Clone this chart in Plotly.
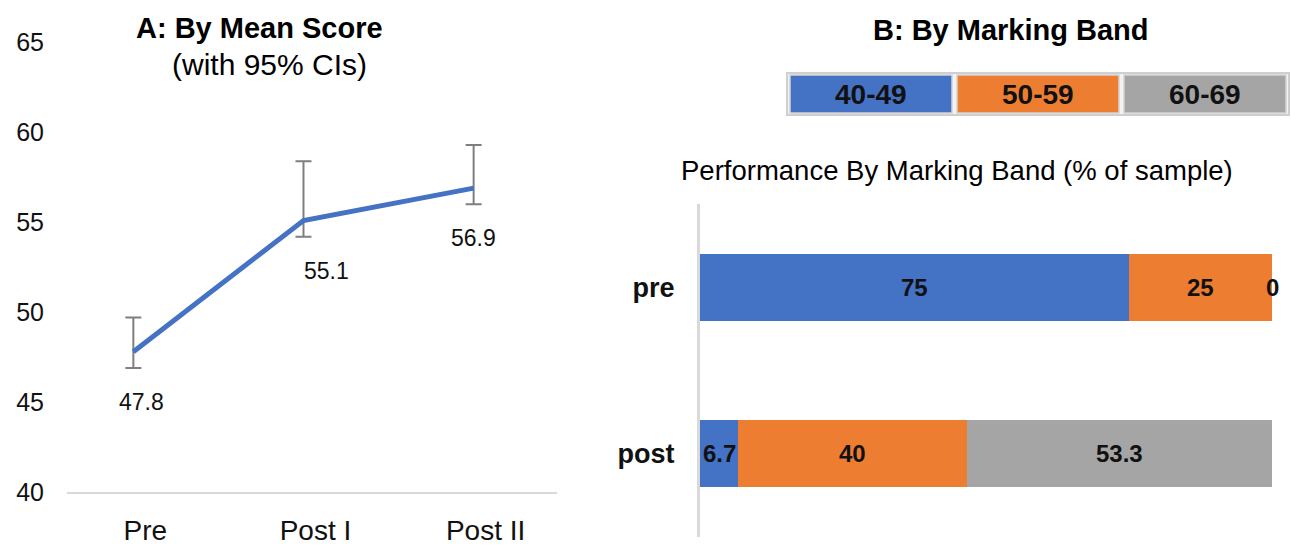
import plotly.graph_objects as go

# ---------------- data ----------------
# Panel A: mean score with 95% CIs
phases = ["Pre", "Post I", "Post II"]
mean_score = [47.8, 55.1, 56.9]
ci_upper = [49.7, 58.4, 59.3]
ci_lower = [46.9, 54.2, 56.0]
y_ticks = [40, 45, 50, 55, 60, 65]

# Panel B: performance by marking band (% of sample)
groups = ["pre", "post"]
bands = ["40-49", "50-59", "60-69"]
band_colors = ["#4472C4", "#ED7D31", "#A5A5A5"]
band_values = {
    "40-49": [75, 6.7],
    "50-59": [25, 40],
    "60-69": [0, 53.3],
}

W, H = 1291, 546
FONT = "Liberation Sans, Arial, sans-serif"


def px(x):
    return x / W


def py(y):
    return 1 - y / H


fig = go.Figure()

# ---------------- Panel A ----------------
fig.add_trace(go.Scatter(
    x=phases, y=mean_score, mode="lines",
    line=dict(color="#4472C4", width=5),
    error_y=dict(
        type="data", symmetric=False,
        array=[u - m for u, m in zip(ci_upper, mean_score)],
        arrayminus=[m - l for m, l in zip(mean_score, ci_lower)],
        color="#7F7F7F", thickness=2, width=8,
    ),
    xaxis="x", yaxis="y", showlegend=False, hoverinfo="skip",
))

label_xshift = [8, 23, 0]
for p, m, xs in zip(phases, mean_score, label_xshift):
    fig.add_annotation(
        x=p, y=m, xref="x", yref="y", text=f"{m:.1f}", showarrow=False,
        xanchor="center", yanchor="middle",
        xshift=xs, yshift=-50, font=dict(family=FONT, size=23, color="#111"),
    )

# ---------------- Panel B ----------------
for band, col in zip(bands, band_colors):
    fig.add_trace(go.Bar(
        y=groups, x=band_values[band], orientation="h", name=band,
        marker=dict(color=col, line=dict(width=0)), width=0.4,
        xaxis="x2", yaxis="y2", showlegend=False, hoverinfo="skip",
    ))

# segment value labels (centred in each segment; a zero segment sits at its edge)
for gi, g in enumerate(groups):
    start = 0
    for band in bands:
        v = band_values[band][gi]
        fig.add_annotation(
            x=start + v / 2, y=g, xref="x2", yref="y2", text=f"{v:g}",
            showarrow=False, xanchor="center", yanchor="middle",
            font=dict(family=FONT, size=24, color="#111", weight="bold"),
        )
        start += v

# legend boxes (decoration)
leg_left, leg_top, leg_bottom = 790, 75, 113
box_w, box_gap = 162, 5
fig.add_shape(type="rect", xref="paper", yref="paper",
              x0=px(leg_left - 3), x1=px(leg_left + 3 * box_w + 2 * box_gap + 3),
              y0=py(leg_bottom + 2), y1=py(leg_top - 2),
              line=dict(color="#CFCFCF", width=2), fillcolor="#F2F2F2", layer="below")
for i, (band, col) in enumerate(zip(bands, band_colors)):
    x0 = leg_left + i * (box_w + box_gap)
    fig.add_shape(type="rect", xref="paper", yref="paper",
                  x0=px(x0), x1=px(x0 + box_w), y0=py(leg_bottom), y1=py(leg_top),
                  line=dict(color="#D4D4D4", width=1.5), fillcolor=col)
    fig.add_annotation(x=px(x0 + box_w / 2), y=py((leg_top + leg_bottom) / 2),
                       xref="paper", yref="paper", text=band, showarrow=False,
                       xanchor="center", yanchor="middle",
                       font=dict(family=FONT, size=28, color="#111", weight="bold"))

# titles
titles = [
    ("A: By Mean Score", 259, 28, 29, "bold"),
    ("(with 95% CIs)", 269, 64, 30, "normal"),
    ("B: By Marking Band", 1011, 30, 29, "bold"),
    ("Performance By Marking Band (% of sample)", 957, 170, 27.5, "normal"),
]
for txt, tx, ty, size, weight in titles:
    fig.add_annotation(x=px(tx), y=py(ty), xref="paper", yref="paper",
                       text=txt, showarrow=False, xanchor="center", yanchor="middle",
                       font=dict(family=FONT, size=size, color="#000", weight=weight))

fig.update_layout(
    width=W, height=H,
    margin=dict(l=0, r=0, t=0, b=0, autoexpand=False),
    paper_bgcolor="white", plot_bgcolor="white",
    barmode="stack", bargap=0.6,
    font=dict(family=FONT, color="#111"),
    xaxis=dict(
        domain=[px(67), px(557)], range=[-0.39, 2.49], type="category",
        showgrid=False, zeroline=False, showline=True, linecolor="#D9D9D9", linewidth=2,
        ticks="", tickfont=dict(family=FONT, size=28, color="#111"),
        ticklabelstandoff=12, ticklabelshift=12, automargin=False,
    ),
    yaxis=dict(
        domain=[py(492), py(42.5)], range=[40, 65], tickvals=y_ticks,
        showgrid=False, zeroline=False, showline=False, ticks="",
        tickfont=dict(family=FONT, size=25, color="#111"), ticklabelstandoff=22,
        automargin=False,
    ),
    xaxis2=dict(
        domain=[px(700), px(1272)], range=[0, 100], anchor="y2",
        visible=False, automargin=False,
    ),
    yaxis2=dict(
        domain=[py(537), py(204)], anchor="x2", type="category",
        autorange="reversed", showgrid=False, zeroline=False,
        showline=True, linecolor="#D9D9D9", linewidth=3, ticks="",
        tickfont=dict(family=FONT, size=27, color="#111", weight="bold"),
        ticklabelstandoff=17, automargin=False,
    ),
)

fig.write_html("out.html", config={"displayModeBar": False},
               post_script="document.body.style.margin='0';")
